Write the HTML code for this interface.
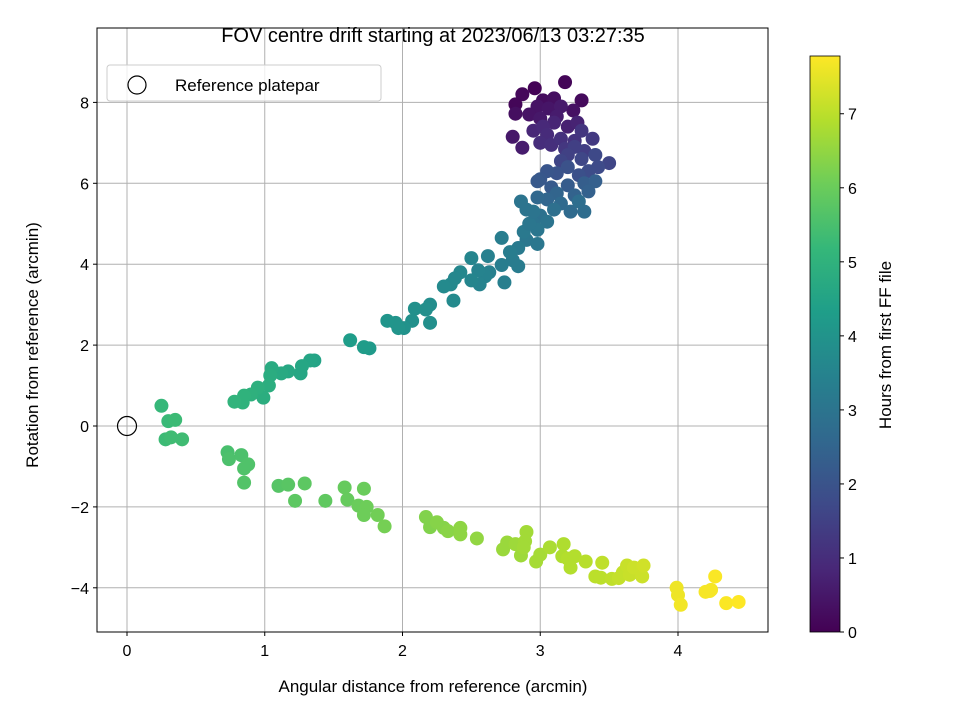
<!DOCTYPE html>
<html><head><meta charset="utf-8">
<style>
body{margin:0;background:#fff;}
svg text{font-family:"Liberation Sans","DejaVu Sans",sans-serif;fill:#000;}
</style></head>
<body>
<svg id="chart" width="960" height="720" viewBox="0 0 960 720" xmlns="http://www.w3.org/2000/svg">
<text x="433" y="42" font-size="20" text-anchor="middle">FOV centre drift starting at 2023/06/13 03:27:35</text>
<g id="grid"></g>
<g id="points"></g>
<rect x="97" y="28" width="671" height="604" fill="none" stroke="#000" stroke-width="1"/>
<g id="ticks"></g>
<text x="433" y="692" font-size="17" text-anchor="middle">Angular distance from reference (arcmin)</text>
<text transform="translate(38,345) rotate(-90)" font-size="17" text-anchor="middle">Rotation from reference (arcmin)</text>
<g>
<rect x="107" y="65" width="274" height="36" rx="3" fill="#fff" fill-opacity="0.8" stroke="#ccc"/>
<circle cx="137" cy="85" r="9" fill="none" stroke="#000" stroke-width="1.2"/>
<text x="175" y="91" font-size="17">Reference platepar</text>
</g>
<defs><linearGradient id="vir" x1="0" y1="1" x2="0" y2="0"></linearGradient></defs>
<rect id="cbar" x="810" y="56" width="30" height="576" fill="url(#vir)" stroke="#000" stroke-width="0.8"/>
<g id="cticks"></g>
<text transform="translate(891,345) rotate(-90)" font-size="17" text-anchor="middle">Hours from first FF file</text>
</svg>
<script>
const xTicks=[0,1,2,3,4];
const yTicks=[-4,-2,0,2,4,6,8];
const cTicks=[0,1,2,3,4,5,6,7];
const cMax=7.78;
const refPoint=[0,0];
const xs=[2.96,3.18,2.87,3.3,2.82,3.02,3.1,3.24,2.82,2.98,3.06,2.92,3.0,3.15,3.12,3.2,3.27,3.1,2.95,3.02,3.05,2.8,2.87,3.0,3.08,3.15,3.25,3.3,3.18,3.38,3.32,3.25,3.2,3.15,3.3,3.4,3.5,3.42,3.35,3.28,3.2,3.12,3.05,3.0,2.98,3.08,3.2,3.32,3.4,3.35,3.25,3.12,3.05,2.98,3.15,3.22,3.32,3.28,3.1,3.0,2.95,2.9,3.05,2.98,2.9,2.98,2.86,2.88,2.84,2.92,2.95,2.84,2.8,2.78,2.72,2.74,2.72,2.63,2.62,2.6,2.56,2.55,2.5,2.5,2.42,2.38,2.37,2.35,2.3,2.2,2.2,2.17,2.09,2.07,2.01,1.97,1.95,1.89,1.76,1.72,1.62,1.36,1.33,1.27,1.26,1.17,1.12,1.05,1.04,0.99,1.03,0.95,0.9,0.85,0.84,0.78,
0.25,0.3,0.35,0.28,0.32,0.4,0.73,0.74,0.83,0.88,0.85,0.85,1.1,1.17,1.29,1.22,1.44,1.58,1.6,1.72,1.68,1.74,1.72,1.82,1.87,2.17,2.2,2.25,2.3,2.33,2.42,2.42,2.54,2.73,2.76,2.82,2.86,2.9,2.89,2.88,2.97,3.0,3.07,3.17,3.16,3.2,3.22,3.25,3.33,3.4,3.44,3.45,3.52,3.57,3.6,3.63,3.65,3.68,3.74,3.75,3.99,4.0,4.02,4.2,4.23,4.24,4.27,4.35,4.44];
const ys=[8.35,8.5,8.2,8.05,7.95,8.05,8.1,7.8,7.72,7.9,7.85,7.7,7.6,7.9,7.65,7.4,7.5,7.5,7.3,7.4,7.2,7.15,6.88,7.0,6.95,7.1,7.05,7.3,6.85,7.1,6.8,6.9,6.7,6.55,6.6,6.7,6.5,6.4,6.3,6.2,6.4,6.25,6.3,6.1,6.05,5.9,5.95,6.0,6.05,5.8,5.7,5.75,5.6,5.65,5.5,5.3,5.3,5.55,5.35,5.2,5.0,5.35,5.05,4.85,4.6,4.5,5.55,4.8,4.4,5.0,5.3,3.95,4.1,4.3,3.98,3.55,4.65,3.8,4.2,3.7,3.5,3.85,3.6,4.15,3.8,3.65,3.1,3.5,3.45,3.0,2.55,2.88,2.9,2.6,2.42,2.42,2.55,2.6,1.92,1.95,2.12,1.62,1.62,1.48,1.3,1.35,1.3,1.43,1.25,0.7,1.0,0.95,0.78,0.75,0.58,0.6,
0.5,0.12,0.15,-0.33,-0.28,-0.33,-0.65,-0.82,-0.72,-0.95,-1.05,-1.4,-1.48,-1.45,-1.42,-1.85,-1.85,-1.52,-1.82,-1.55,-1.97,-2.0,-2.2,-2.2,-2.48,-2.25,-2.5,-2.38,-2.52,-2.6,-2.68,-2.52,-2.78,-3.05,-2.88,-2.92,-3.2,-2.62,-2.85,-3.0,-3.35,-3.18,-3.0,-2.92,-3.22,-3.28,-3.5,-3.22,-3.35,-3.72,-3.75,-3.38,-3.78,-3.76,-3.62,-3.45,-3.68,-3.5,-3.72,-3.45,-4.0,-4.18,-4.42,-4.1,-4.08,-4.05,-3.72,-4.38,-4.35];
const hours=[0.05,0.1,0.15,0.2,0.1,0.25,0.3,0.35,0.3,0.4,0.45,0.4,0.5,0.55,0.6,0.7,0.75,0.8,0.85,0.9,0.95,0.5,0.6,1.0,1.05,1.1,1.15,1.2,1.25,1.3,1.4,1.45,1.5,1.6,1.65,1.7,1.6,1.75,1.8,1.9,1.95,2.0,2.05,2.1,2.15,2.2,2.25,2.3,2.35,2.4,2.45,2.5,2.55,2.6,2.65,2.7,2.75,2.8,2.85,2.9,2.95,3.0,3.0,3.05,3.1,3.1,3.0,3.15,3.2,3.05,3.0,3.25,3.25,3.3,3.3,3.35,3.3,3.4,3.4,3.45,3.5,3.5,3.55,3.55,3.6,3.6,3.7,3.65,3.7,3.8,3.85,3.85,3.9,3.9,3.95,4.0,4.0,4.05,4.2,4.25,4.3,4.5,4.55,4.6,4.6,4.65,4.7,4.75,4.8,4.85,4.85,4.9,4.95,5.0,5.0,5.05,
5.2,5.25,5.3,5.3,5.35,5.35,5.5,5.55,5.55,5.6,5.6,5.65,5.7,5.75,5.8,5.8,5.85,5.95,5.95,6.0,6.0,6.05,6.05,6.1,6.15,6.3,6.3,6.35,6.35,6.4,6.45,6.45,6.5,6.6,6.6,6.65,6.65,6.7,6.7,6.7,6.75,6.75,6.8,6.85,6.85,6.9,6.9,6.9,6.95,7.0,7.0,7.05,7.05,7.1,7.1,7.15,7.15,7.2,7.2,7.25,7.6,7.6,7.65,7.7,7.7,7.7,7.75,7.75,7.78];

const X0=127,XS=137.75,Y0=426,YS=40.45,CB=632,CS=(632-56)/cMax;
const xPx=v=>X0+v*XS, yPx=v=>Y0-v*YS, cPx=v=>CB-v*CS;
const vir=[[68,1,84],[72,40,120],[62,74,137],[49,104,142],[38,130,142],[31,158,137],[53,183,121],[109,205,89],[180,222,44],[253,231,37]];
function col(t){let f=Math.max(0,Math.min(1,t/cMax))*(vir.length-1);let i=Math.min(vir.length-2,Math.floor(f));let r=f-i;
 const c=vir[i].map((a,k)=>Math.round(a+(vir[i+1][k]-a)*r));return `rgb(${c[0]},${c[1]},${c[2]})`;}
const NS="http://www.w3.org/2000/svg";
function mk(tag,attrs,parent){const e=document.createElementNS(NS,tag);for(const k in attrs)e.setAttribute(k,attrs[k]);parent.appendChild(e);return e;}
const grid=document.getElementById('grid'),ticks=document.getElementById('ticks'),pts=document.getElementById('points');
xTicks.forEach(v=>{const x=xPx(v);
 const g=mk('line',{x1:x,x2:x,y1:28,y2:632,stroke:'#b0b0b0','stroke-width':1},grid);
 
 
 const t=mk('line',{x1:x,x2:x,y1:632,y2:636,stroke:'#000'},ticks);
 
 
 const l=mk('text',{x:x,y:656,'font-size':16,'text-anchor':'middle'},ticks);l.textContent=v;
 
 
});
yTicks.forEach(v=>{const y=yPx(v);
 const g=mk('line',{x1:97,x2:768,y1:y,y2:y,stroke:'#b0b0b0','stroke-width':1},grid);
 
 
 const t=mk('line',{x1:93,x2:97,y1:y,y2:y,stroke:'#000'},ticks);
 
 
 const l=mk('text',{x:89,y:y+6,'font-size':16,'text-anchor':'end'},ticks);l.textContent=v<0?'\u2212'+(-v):v;
 
 
});
xs.forEach((x,i)=>{const c=mk('circle',{cx:xPx(x),cy:yPx(ys[i]),r:7,fill:col(hours[i])},pts);
 
 
});
const ref=mk('circle',{cx:xPx(refPoint[0]),cy:yPx(refPoint[1]),r:9.5,fill:'none',stroke:'#000','stroke-width':1.2},pts);


const grad=document.getElementById('vir');
vir.forEach((c,i)=>{mk('stop',{offset:(i/(vir.length-1)),'stop-color':`rgb(${c[0]},${c[1]},${c[2]})`},grad);});
const ct=document.getElementById('cticks');
cTicks.forEach(v=>{const y=cPx(v);
 const t=mk('line',{x1:840,x2:844,y1:y,y2:y,stroke:'#000'},ct);
 
 
 const l=mk('text',{x:848,y:y+6,'font-size':16},ct);l.textContent=v;
 
 
});
</script>
</body></html>
